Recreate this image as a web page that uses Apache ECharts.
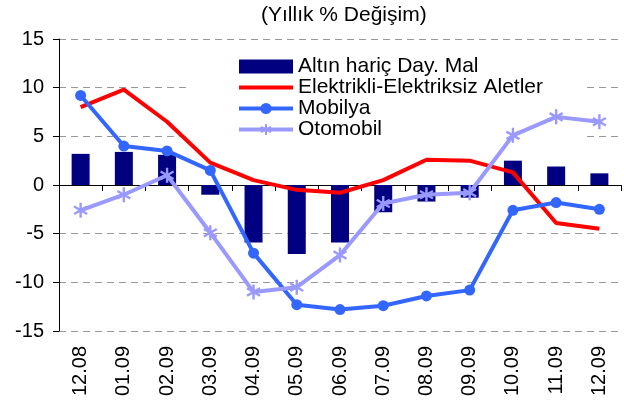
<!DOCTYPE html>
<html>
<head>
<meta charset="utf-8">
<script src="https://cdn.jsdelivr.net/npm/echarts@6/dist/echarts.min.js"></script>
<style>
  html, body { margin: 0; padding: 0; background: #fff; }
  #chart { width: 628px; height: 405px; }
</style>
</head>
<body>
<div id="chart"></div>
<script>
const months = ["12.08", "01.09", "02.09", "03.09", "04.09", "05.09", "06.09", "07.09", "08.09", "09.09", "10.09", "11.09", "12.09"];
const altin = [3.2, 3.4, 3.1, -1.0, -5.9, -7.1, -5.9, -2.8, -1.7, -1.3, 2.5, 1.9, 1.2];
const elektrikli = [8.0, 9.8, 6.5, 2.3, 0.5, -0.5, -0.8, 0.5, 2.6, 2.5, 1.3, -3.9, -4.5];
const mobilya = [9.2, 4.0, 3.5, 1.5, -7.0, -12.3, -12.8, -12.4, -11.4, -10.8, -2.6, -1.8, -2.5];
const otomobil = [-2.6, -1.0, 1.0, -4.9, -11.0, -10.5, -7.2, -1.9, -1.0, -0.8, 5.1, 7.0, 6.5];
const yTicks = { min: -15, max: 15, step: 5 };

const font = "'Liberation Sans', Arial, sans-serif";

// asterisk marker: vertical bar + two diagonals
const starPath = "path://M-1.6 -10 L1.6 -10 L1.6 10 L-1.6 10 Z" +
  " M7.86 6.39 L-9.46 -3.61 L-7.86 -6.39 L9.46 3.61 Z" +
  " M-7.86 6.39 L-9.46 3.61 L7.86 -6.39 L9.46 -3.61 Z";
// plain thick line for the legend of the red series (no marker)
const lineIcon = "path://M0 0 L54 0 L54 4 L0 4 Z";

const chart = echarts.init(document.getElementById("chart"));

chart.setOption({
  animation: false,
  backgroundColor: "#fff",
  title: {
    text: "(Yıllık % Değişim)",
    left: 261,
    top: 5,
    padding: 0,
    textStyle: { fontFamily: font, fontSize: 21, fontWeight: "normal", color: "#000" }
  },
  legend: {
    orient: "vertical",
    left: 190,
    top: 50,
    z: 1,
    padding: [6, 42, 5, 47],
    itemGap: 0,
    itemWidth: 54,
    itemHeight: 14,
    backgroundColor: "#fff",
    lineStyle: { width: 4 },
    textStyle: { fontFamily: font, fontSize: 21, color: "#000", lineHeight: 21 },
    data: [
      { name: "Altın hariç Day. Mal", icon: "rect" },
      { name: "Elektrikli-Elektriksiz Aletler", icon: lineIcon },
      { name: "Mobilya" },
      { name: "Otomobil" }
    ]
  },
  grid: { left: 59, right: 7, top: 39, bottom: 74 },
  xAxis: [
    {
      type: "category",
      data: months,
      axisLine: { onZero: true, lineStyle: { color: "#000", width: 1 } },
      axisTick: { show: true, length: 6, lineStyle: { color: "#000" } },
      axisLabel: { show: false },
      splitLine: { show: false }
    },
    {
      type: "category",
      data: months,
      position: "bottom",
      axisLine: { show: false, onZero: false },
      axisTick: { show: false },
      axisLabel: {
        rotate: 90,
        margin: 15,
        fontFamily: font,
        fontSize: 20,
        color: "#000"
      }
    }
  ],
  yAxis: {
    type: "value",
    min: yTicks.min,
    max: yTicks.max,
    interval: yTicks.step,
    axisLine: { show: true, lineStyle: { color: "#000", width: 1 } },
    axisTick: { show: true, length: 6, lineStyle: { color: "#000" } },
    axisLabel: { margin: 15, fontFamily: font, fontSize: 20, color: "#000" },
    splitLine: { lineStyle: { color: "#999", type: [7, 5], width: 1 } }
  },
  series: [
    {
      name: "Altın hariç Day. Mal",
      type: "bar",
      data: altin,
      barWidth: 18,
      itemStyle: { color: "#000080" }
    },
    {
      name: "Elektrikli-Elektriksiz Aletler",
      type: "line",
      data: elektrikli,
      symbol: "none",
      lineStyle: { color: "#ff0000", width: 4 },
      itemStyle: { color: "#ff0000" }
    },
    {
      name: "Mobilya",
      type: "line",
      data: mobilya,
      symbol: "circle",
      symbolSize: 11,
      lineStyle: { color: "#3366ff", width: 4 },
      itemStyle: { color: "#3366ff" }
    },
    {
      name: "Otomobil",
      type: "line",
      data: otomobil,
      symbol: starPath,
      symbolKeepAspect: true,
      symbolSize: 15,
      lineStyle: { color: "#9999ff", width: 4 },
      itemStyle: { color: "#9999ff" }
    }
  ]
});
</script>
</body>
</html>
